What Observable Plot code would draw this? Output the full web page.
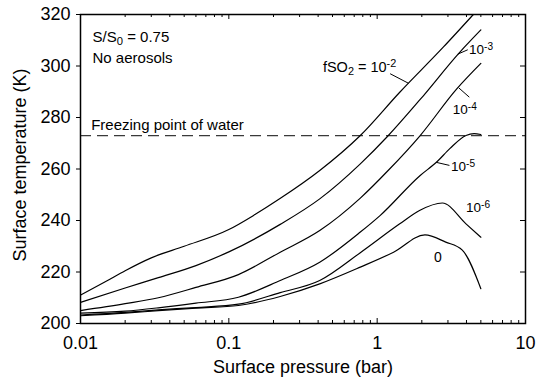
<!DOCTYPE html>
<html><head><meta charset="utf-8">
<script src="https://cdn.jsdelivr.net/npm/d3@7"></script>
<script src="https://cdn.jsdelivr.net/npm/@observablehq/plot@0.6"></script>
<style>html,body{margin:0;padding:0;background:#fff;}</style>
</head><body><div id="chart"></div>
<script>
// ---- data ----
const seriesNames = ["1e-2", "1e-3", "1e-4", "1e-5", "1e-6", "0"];

const p_e2 = [0.01, 0.015, 0.02, 0.03, 0.05, 0.1, 0.15, 0.22, 0.41, 0.77, 1.42, 2.8, 4.45];
const t_e2 = [211, 216.5, 220.5, 225.5, 230, 236.5, 242.3, 248.4, 259.4, 273, 289.8, 307.4, 320];

const p_e3 = [0.01, 0.02, 0.0335, 0.06, 0.1, 0.222, 0.41, 0.77, 1.19, 1.95, 3.6, 5];
const t_e3 = [208.2, 213.8, 217.8, 222.5, 227.8, 238.5, 248.4, 262, 273, 287, 305.3, 314];

const p_e4 = [0.01, 0.02, 0.0335, 0.06, 0.116, 0.222, 0.41, 0.77, 1.19, 1.95, 3.44, 5];
const t_e4 = [205, 207.7, 210, 214, 219, 227.7, 236.1, 248.7, 259.5, 273, 291.1, 301];

const p_e5 = [0.01, 0.02, 0.0335, 0.06, 0.116, 0.222, 0.41, 0.77, 1.05, 1.95, 2.52, 3.1, 3.97, 4.5, 5];
const t_e5 = [204, 204.8, 206.1, 207.9, 210.2, 216.7, 223.8, 235.5, 242, 257.5, 262.7, 268, 273, 273.7, 273.4];

const p_e6 = [0.01, 0.02, 0.0335, 0.06, 0.116, 0.222, 0.41, 0.77, 1.42, 1.93, 2.75, 3.97, 5];
const t_e6 = [203.3, 204.3, 205.3, 206.2, 207.5, 212, 216.7, 227.5, 238.7, 243.9, 246.8, 238.7, 233.5];

const p_0 = [0.01, 0.02, 0.0335, 0.06, 0.116, 0.222, 0.41, 0.77, 1.29, 2.1, 2.9, 3.75, 5];
const t_0 = [203, 204, 205, 206, 207, 210.5, 215.4, 221.9, 227.7, 234.4, 231.6, 228.5, 213.5];

const freezingK = 273;

const xMajor = [0.01, 0.1, 1, 10];
const xMajorLabels = ["0.01", "0.1", "1", "10"];
const xMinor = [0.02,0.03,0.04,0.05,0.06,0.07,0.08,0.09, 0.2,0.3,0.4,0.5,0.6,0.7,0.8,0.9, 2,3,4,5,6,7,8,9];
const yTicks = [200, 220, 240, 260, 280, 300, 320];

const noteLabels = ["S/S_{0} = 0.75", "No aerosols", "Freezing point of water"];
const noteP = [0.01205, 0.01205, 0.0118];
const noteT = [309.3, 301, 275.3];

const mainLabel = ["fSO_{2} = 10^{-2}"];
const mainLabelP = [0.4307];
const mainLabelT = [297.6];

const expLabels = ["10^{-3}", "10^{-4}", "10^{-5}", "10^{-6}"];
const expLabelP = [4.164, 3.235, 3.15, 3.975];
const expLabelT = [304.7, 281.4, 259.4, 243.2];

const zeroLabel = ["0"];
const zeroLabelP = [2.564];
const zeroLabelT = [223.8];

const ptrP1 = [1.223, 3.494, 3.55, 2.496];
const ptrT1 = [297, 304.6, 291.5, 262.6];
const ptrP2 = [1.625, 4.08, 4.18, 3.07];
const ptrT2 = [293.3, 306.3, 287.9, 261.4];

// ---- build table ----
const seriesP = [p_e2, p_e3, p_e4, p_e5, p_e6, p_0];
const seriesT = [t_e2, t_e3, t_e4, t_e5, t_e6, t_0];
const rows = seriesNames.flatMap((name, k) => seriesP[k].map((p, i) => ({series: name, p, t: seriesT[k][i]})));
const pointers = ptrP1.map((d, i) => ({x1: d, y1: ptrT1[i], x2: ptrP2[i], y2: ptrT2[i]}));

const W = 536, H = 380, mL = 80, mR = 11, mT = 14, mB = 57;
const plotW = W - mL - mR, plotH = H - mT - mB;
const font = "'Liberation Sans', Arial, Helvetica, sans-serif";

const chart = Plot.plot({
  width: W, height: H,
  marginLeft: mL, marginRight: mR, marginTop: mT, marginBottom: mB,
  style: {fontFamily: font, fontSize: "18px", background: "#fff", color: "#000"},
  x: {type: "log", domain: [0.01, 10]},
  y: {domain: [200, 320]},
  marks: [
    Plot.ruleY([freezingK], {stroke: "#3a3a3a", strokeWidth: 1.3, strokeDasharray: "11,6"}),
    Plot.line(rows, {x: "p", y: "t", z: "series", stroke: "#000", strokeWidth: 1.2, curve: "monotone-x", clip: true}),
    Plot.link(pointers, {x1: "x1", y1: "y1", x2: "x2", y2: "y2", stroke: "#000", strokeWidth: 1}),
    Plot.text(noteLabels, {x: (d, i) => noteP[i], y: (d, i) => noteT[i], textAnchor: "start", lineAnchor: "bottom", fontSize: 15}),
    Plot.text(mainLabel, {x: (d, i) => mainLabelP[i], y: (d, i) => mainLabelT[i], textAnchor: "start", lineAnchor: "bottom", fontSize: 14.5}),
    Plot.text(expLabels, {x: (d, i) => expLabelP[i], y: (d, i) => expLabelT[i], textAnchor: "start", lineAnchor: "bottom", fontSize: 13.5}),
    Plot.text(zeroLabel, {x: (d, i) => zeroLabelP[i], y: (d, i) => zeroLabelT[i], textAnchor: "middle", lineAnchor: "bottom", fontSize: 14}),
    // ticks (inward on bottom/top/right, outward on left)
    Plot.tickX(xMajor, {x: d => d, insetTop: plotH - 5, stroke: "#000"}),
    Plot.tickX(xMinor, {x: d => d, insetTop: plotH - 3, stroke: "#000"}),
    Plot.tickX(xMajor, {x: d => d, insetBottom: plotH - 5, stroke: "#000"}),
    Plot.tickX(xMinor, {x: d => d, insetBottom: plotH - 3, stroke: "#000"}),
    Plot.tickY(yTicks, {y: d => d, insetLeft: plotW - 5, stroke: "#000"}),
    Plot.axisY({ticks: yTicks, tickSize: 4, tickPadding: 6, label: null, tickFormat: d => String(d)}),
    Plot.axisX({ticks: xMajor, tickSize: 0, tickPadding: 13, label: null, tickFormat: d => xMajorLabels[xMajor.indexOf(d)]}),
    Plot.text(["Surface pressure (bar)"], {frameAnchor: "bottom", dy: 49, lineAnchor: "bottom", fontSize: 18}),
    Plot.text(["Surface temperature (K)"], {frameAnchor: "left", dx: -55, dy: -4, rotate: -90, textAnchor: "middle", lineAnchor: "bottom", fontSize: 18}),
    Plot.frame({stroke: "#000", strokeWidth: 1.5})
  ]
});

document.getElementById("chart").appendChild(chart);

// turn _{..} and ^{..} into sub/superscript tspans
chart.querySelectorAll("text").forEach(t => {
  const s = t.textContent;
  if (!/[_^]\{/.test(s)) return;
  const parts = s.split(/([_^]\{[^}]*\})/).filter(d => d);
  while (t.firstChild) t.removeChild(t.firstChild);
  for (const part of parts) {
    const ts = document.createElementNS("http://www.w3.org/2000/svg", "tspan");
    const m = part.match(/^([_^])\{([^}]*)\}$/);
    if (m) {
      ts.textContent = m[2];
      ts.setAttribute("font-size", "75%");
      ts.setAttribute("baseline-shift", m[1] === "^" ? "45%" : "-25%");
    } else {
      ts.textContent = part;
    }
    t.appendChild(ts);
  }
});
</script></body></html>
